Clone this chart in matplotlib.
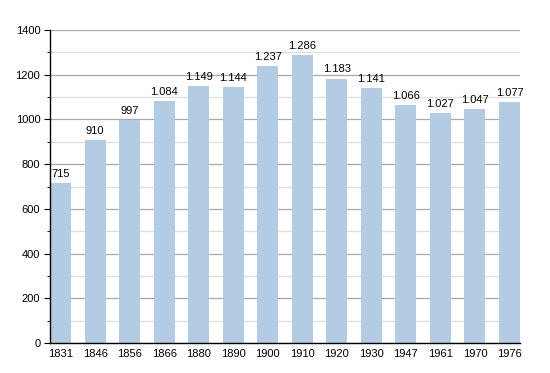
import numpy as np
import matplotlib.pyplot as plt
from matplotlib.ticker import MultipleLocator

years = ['1831', '1846', '1856', '1866', '1880', '1890', '1900',
         '1910', '1920', '1930', '1947', '1961', '1970', '1976']
population = [715, 910, 997, 1084, 1149, 1144, 1237,
              1286, 1183, 1141, 1066, 1027, 1047, 1077]

plt.rcParams['font.family'] = ['Liberation Sans', 'DejaVu Sans']

fig = plt.figure(figsize=(5.5, 3.73), dpi=100)
ax = fig.add_axes([50 / 550, 30 / 373, 470 / 550, 313 / 373])

x = np.arange(len(years))
w = 0.61
ax.bar(x, population, width=w, color='#b3cbe3', zorder=2)

def fmt(v):
    return f'{v:,}'.replace(',', '.')

for xi, v in zip(x, population):
    ax.text(xi, v + 18, fmt(v), ha='center', va='bottom', fontsize=8, zorder=3)

ax.set_xlim(-w / 2, len(years) - 1 + w / 2)
ax.set_ylim(0, 1400)
ax.set_xticks(x)
ax.set_xticklabels(years)
ax.yaxis.set_major_locator(MultipleLocator(200))
ax.yaxis.set_minor_locator(MultipleLocator(100))
ax.grid(axis='y', which='major', color='#a8a8a8', linewidth=0.9, zorder=0)
ax.grid(axis='y', which='minor', color='#dddddd', linewidth=0.9, zorder=0)
ax.set_axisbelow(True)

for s in ['top', 'right']:
    ax.spines[s].set_visible(False)
ax.spines['left'].set_linewidth(1.0)
ax.spines['bottom'].set_linewidth(1.0)
ax.tick_params(axis='x', length=0, labelsize=8, pad=4)
ax.tick_params(axis='y', which='major', length=4, labelsize=8, pad=3)
ax.tick_params(axis='y', which='minor', length=2.5)

fig.savefig('out.png', dpi=100)
